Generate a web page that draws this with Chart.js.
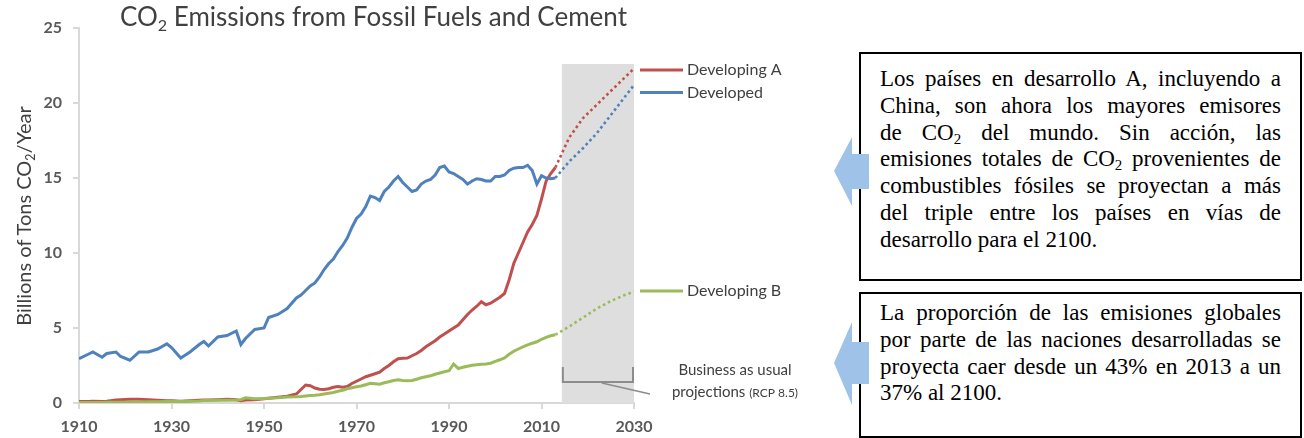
<!DOCTYPE html>
<html>
<head>
<meta charset="utf-8">
<script src="https://cdn.jsdelivr.net/npm/chart.js@4/dist/chart.umd.min.js"></script>
<style>
  html, body { margin: 0; padding: 0; background: #fff; }
  body { width: 1304px; height: 438px; position: relative; overflow: hidden; }
  #chart { position: absolute; left: 0; top: 0; }
  .title { position: absolute; left: 120px; top: 0px; font: 26px Lato, sans-serif; color: #404040; white-space: nowrap; }
  .title sub, .ytitle sub { font-size: 0.62em; vertical-align: -0.3em; line-height: 0; }
  .ytitle { position: absolute; left: -127px; top: 204px; width: 300px; height: 24px; line-height: 24px;
            text-align: center; transform: rotate(-90deg); font: 20px Lato, sans-serif; color: #404040; white-space: nowrap; }
  .box { position: absolute; box-sizing: border-box; left: 859px; width: 443px; border: 2px solid #000;
         font-family: "Liberation Serif", "Times New Roman", serif; font-size: 23px; line-height: 26.8px; color: #000;
         padding-left: 19px; padding-right: 19px; }
  .box div { text-align: justify; text-align-last: justify; white-space: nowrap; }
  .box div.last { text-align: left; text-align-last: left; }
  .box sub { font-size: 0.65em; vertical-align: -0.25em; line-height: 0; }
  #box1 { top: 52px; height: 229px; padding-top: 12px; }
  #box2 { top: 292px; height: 146px; padding-top: 6px; }
  #arrows { position: absolute; left: 0; top: 0; }
</style>
</head>
<body>
<canvas id="chart" width="830" height="438"></canvas>
<div class="title">CO<sub>2</sub> Emissions from Fossil Fuels and Cement</div>
<div class="ytitle">Billions of Tons CO<sub>2</sub>/Year</div>

<div class="box" id="box1">
  <div>Los países en desarrollo A, incluyendo a</div>
  <div>China, son ahora los mayores emisores</div>
  <div>de CO<sub>2</sub> del mundo. Sin acción, las</div>
  <div>emisiones totales de CO<sub>2</sub> provenientes de</div>
  <div>combustibles fósiles se proyectan a más</div>
  <div>del triple entre los países en vías de</div>
  <div class="last">desarrollo para el 2100.</div>
</div>
<div class="box" id="box2">
  <div>La proporción de las emisiones globales</div>
  <div>por parte de las naciones desarrolladas se</div>
  <div>proyecta caer desde un 43% en 2013 a un</div>
  <div class="last">37% al 2100.</div>
</div>

<svg id="arrows" width="1304" height="438">
  <polygon points="834,171 852,137 852,154 869,154 869,189 852,189 852,206" fill="#9fc2e9"/>
  <polygon points="834,363 852,322 852,342 869,342 869,384 852,384 852,405" fill="#9fc2e9"/>
</svg>

<script>
// historical years (sparser before 1957)
const histYears = [
  1910, 1912, 1913, 1915, 1916, 1918, 1919, 1921, 1923, 1925, 1927, 1929, 1930, 1932,
  1934, 1936, 1937, 1938, 1940, 1942, 1944, 1945, 1946, 1948, 1950, 1951, 1953, 1955,
  1957, 1958, 1959, 1960, 1961, 1962, 1963, 1964, 1965, 1966, 1967, 1968, 1969, 1970,
  1971, 1972, 1973, 1974, 1975, 1976, 1977, 1978, 1979, 1980, 1981, 1982, 1983, 1984,
  1985, 1986, 1987, 1988, 1989, 1990, 1991, 1992, 1993, 1994, 1995, 1996, 1997, 1998,
  1999, 2000, 2001, 2002, 2003, 2004, 2005, 2006, 2007, 2008, 2009, 2010, 2011, 2012, 2013
];

const developed = [
  2.95, 3.25, 3.4, 3.05, 3.3, 3.4, 3.1, 2.85, 3.4, 3.4, 3.6, 3.95, 3.7, 3.0,
  3.4, 3.9, 4.1, 3.8, 4.4, 4.5, 4.8, 3.9, 4.3, 4.9, 5.0, 5.7, 5.9, 6.3,
  7.0, 7.2, 7.5, 7.8, 8.0, 8.4, 8.9, 9.3, 9.6, 10.1, 10.5, 11.0, 11.7, 12.3,
  12.6, 13.1, 13.8, 13.7, 13.5, 14.1, 14.4, 14.8, 15.1, 14.7, 14.4, 14.1, 14.2, 14.6,
  14.8, 14.9, 15.2, 15.7, 15.8, 15.4, 15.3, 15.1, 14.9, 14.6, 14.8, 14.95, 14.9, 14.8,
  14.8, 15.1, 15.1, 15.2, 15.5, 15.65, 15.7, 15.7, 15.85, 15.5, 14.6, 15.15, 15.0, 14.95, 15.0
];

const developingA = [
  0.1, 0.1, 0.12, 0.1, 0.12, 0.2, 0.22, 0.25, 0.25, 0.22, 0.18, 0.15, 0.15, 0.12,
  0.15, 0.18, 0.2, 0.2, 0.22, 0.25, 0.22, 0.15, 0.2, 0.22, 0.28, 0.32, 0.38, 0.45,
  0.6, 0.9, 1.2, 1.15, 1.0, 0.92, 0.9, 0.95, 1.05, 1.1, 1.05, 1.1, 1.3, 1.45,
  1.6, 1.75, 1.85, 1.95, 2.05, 2.3, 2.5, 2.75, 2.95, 2.98, 3.0, 3.15, 3.3, 3.5,
  3.75, 3.95, 4.15, 4.4, 4.6, 4.8, 5.0, 5.2, 5.55, 5.9, 6.2, 6.45, 6.75, 6.55,
  6.65, 6.85, 7.05, 7.3, 8.2, 9.3, 10.0, 10.7, 11.4, 11.9, 12.5, 13.6, 14.8, 15.3, 15.7
];

const developingB = [
  0.03, 0.03, 0.04, 0.04, 0.05, 0.05, 0.05, 0.06, 0.07, 0.08, 0.09, 0.1, 0.1, 0.1,
  0.12, 0.14, 0.16, 0.16, 0.18, 0.18, 0.2, 0.22, 0.35, 0.28, 0.3, 0.32, 0.35, 0.4,
  0.42, 0.44, 0.47, 0.5, 0.52, 0.55, 0.6, 0.65, 0.7, 0.78, 0.85, 0.95, 1.02, 1.08,
  1.13, 1.22, 1.31, 1.28, 1.25, 1.35, 1.42, 1.5, 1.55, 1.5, 1.48, 1.5, 1.58, 1.68,
  1.75, 1.82, 1.92, 2.0, 2.08, 2.15, 2.6, 2.3, 2.38, 2.45, 2.52, 2.55, 2.58, 2.6,
  2.65, 2.78, 2.88, 3.0, 3.25, 3.45, 3.6, 3.75, 3.88, 3.98, 4.08, 4.25, 4.38, 4.48, 4.55
];

// business as usual projections (RCP 8.5)
const projYears = [2013, 2016, 2019, 2022, 2025, 2028, 2030];
const developedProj = [15.0, 16.1, 17.0, 18.0, 19.2, 20.4, 21.2];
const developingAProj = [15.7, 17.7, 19.0, 19.9, 20.8, 21.7, 22.3];
const developingBProj = [4.55, 5.1, 5.7, 6.3, 6.8, 7.2, 7.42];

const seriesNames = ["Developing A", "Developed", "Developing B"];
const seriesColors = ["#c0504d", "#4f81bd", "#9bbb59"];

const shadeYears = [2014.4, 2030];
const shadeTop = 22.6;

const pts = (xs, ys) => xs.map((x, i) => ({ x, y: ys[i] }));

function lineSet(data, color, dotted) {
  return {
    data,
    borderColor: color,
    borderWidth: dotted ? 2.6 : 3,
    borderDash: dotted ? [2.6, 3] : [],
    pointRadius: 0,
    tension: 0,
    fill: false
  };
}

const overlay = {
  id: 'overlay',
  beforeDatasetsDraw(chart) {
    const { ctx, scales: { x, y } } = chart;
    const l = x.getPixelForValue(shadeYears[0]);
    const r = x.getPixelForValue(shadeYears[1]);
    const t = y.getPixelForValue(shadeTop);
    const b = y.getPixelForValue(0);
    ctx.save();
    ctx.fillStyle = '#dedede';
    ctx.fillRect(l, t, r - l, b - t);

    // bracket under the projections
    const bt = b - 36, bb = b - 21;
    ctx.strokeStyle = '#8c8c8c';
    ctx.lineWidth = 2;
    ctx.beginPath();
    ctx.moveTo(l + 1, bt);
    ctx.lineTo(l + 1, bb);
    ctx.lineTo(r - 1, bb);
    ctx.lineTo(r - 1, bt);
    ctx.stroke();
    ctx.lineWidth = 1.5;
    ctx.beginPath();
    ctx.moveTo(l + 40, bb + 1);
    ctx.lineTo(r + 16, bb + 12);
    ctx.stroke();

    ctx.fillStyle = '#404040';
    ctx.textAlign = 'center';
    ctx.textBaseline = 'middle';
    ctx.font = '15px Lato';
    ctx.fillText('Business as usual', r + 101, bt + 3);
    const w1 = ctx.measureText('projections ').width;
    ctx.font = '12px Lato';
    const w2 = ctx.measureText('(RCP 8.5)').width;
    const sx = r + 101 - (w1 + w2) / 2;
    ctx.textAlign = 'left';
    ctx.font = '15px Lato';
    ctx.fillText('projections ', sx, bt + 25);
    ctx.font = '12px Lato';
    ctx.fillText('(RCP 8.5)', sx + w1, bt + 26);
    ctx.restore();
  },
  afterDatasetsDraw(chart) {
    const { ctx, scales: { x, y } } = chart;
    const ends = [developingAProj, developedProj, developingBProj].map(a => a[a.length - 1]);
    const nudge = [-0.1, -0.5, 0.05];
    const x0 = x.getPixelForValue(2030);
    ctx.save();
    ctx.font = '16px Lato';
    ctx.textBaseline = 'middle';
    ctx.textAlign = 'left';
    seriesNames.forEach((name, i) => {
      const py = y.getPixelForValue(ends[i] + nudge[i]);
      ctx.strokeStyle = seriesColors[i];
      ctx.lineWidth = 3;
      ctx.beginPath();
      ctx.moveTo(x0 + 6, py);
      ctx.lineTo(x0 + 49, py);
      ctx.stroke();
      ctx.fillStyle = '#404040';
      ctx.fillText(name, x0 + 53, py);
    });
    ctx.restore();
  }
};

const tickFont = { family: 'Lato', size: 16, weight: 'bold' };

new Chart(document.getElementById('chart'), {
  type: 'line',
  data: {
    datasets: [
      lineSet(pts(histYears, developed), seriesColors[1], false),
      lineSet(pts(histYears, developingB), seriesColors[2], false),
      lineSet(pts(histYears, developingA), seriesColors[0], false),
      lineSet(pts(projYears, developedProj), seriesColors[1], true),
      lineSet(pts(projYears, developingBProj), seriesColors[2], true),
      lineSet(pts(projYears, developingAProj), seriesColors[0], true)
    ]
  },
  options: {
    responsive: false,
    animation: false,
    layout: { padding: { left: 0, top: 28, right: 196, bottom: 0 } },
    plugins: { legend: { display: false }, tooltip: { enabled: false } },
    scales: {
      x: {
        type: 'linear',
        min: 1910,
        max: 2030,
        ticks: { stepSize: 20, padding: 8, color: '#595959', font: tickFont, callback: v => String(v) },
        grid: { drawOnChartArea: false, tickLength: 6, color: '#d9d9d9', lineWidth: 2 },
        border: { color: '#d9d9d9', width: 2 },
        afterFit(s) { s.height = 35; s.paddingLeft = 0; s.paddingRight = 0; }
      },
      y: {
        min: 0,
        max: 25,
        ticks: { stepSize: 5, padding: 11, color: '#595959', font: tickFont },
        grid: { drawOnChartArea: false, tickLength: 6, color: '#d9d9d9', lineWidth: 2 },
        border: { color: '#d9d9d9', width: 2 },
        afterFit(s) { s.width = 79; s.paddingTop = 0; s.paddingBottom = 0; }
      }
    }
  },
  plugins: [overlay]
});
</script>
</body>
</html>
